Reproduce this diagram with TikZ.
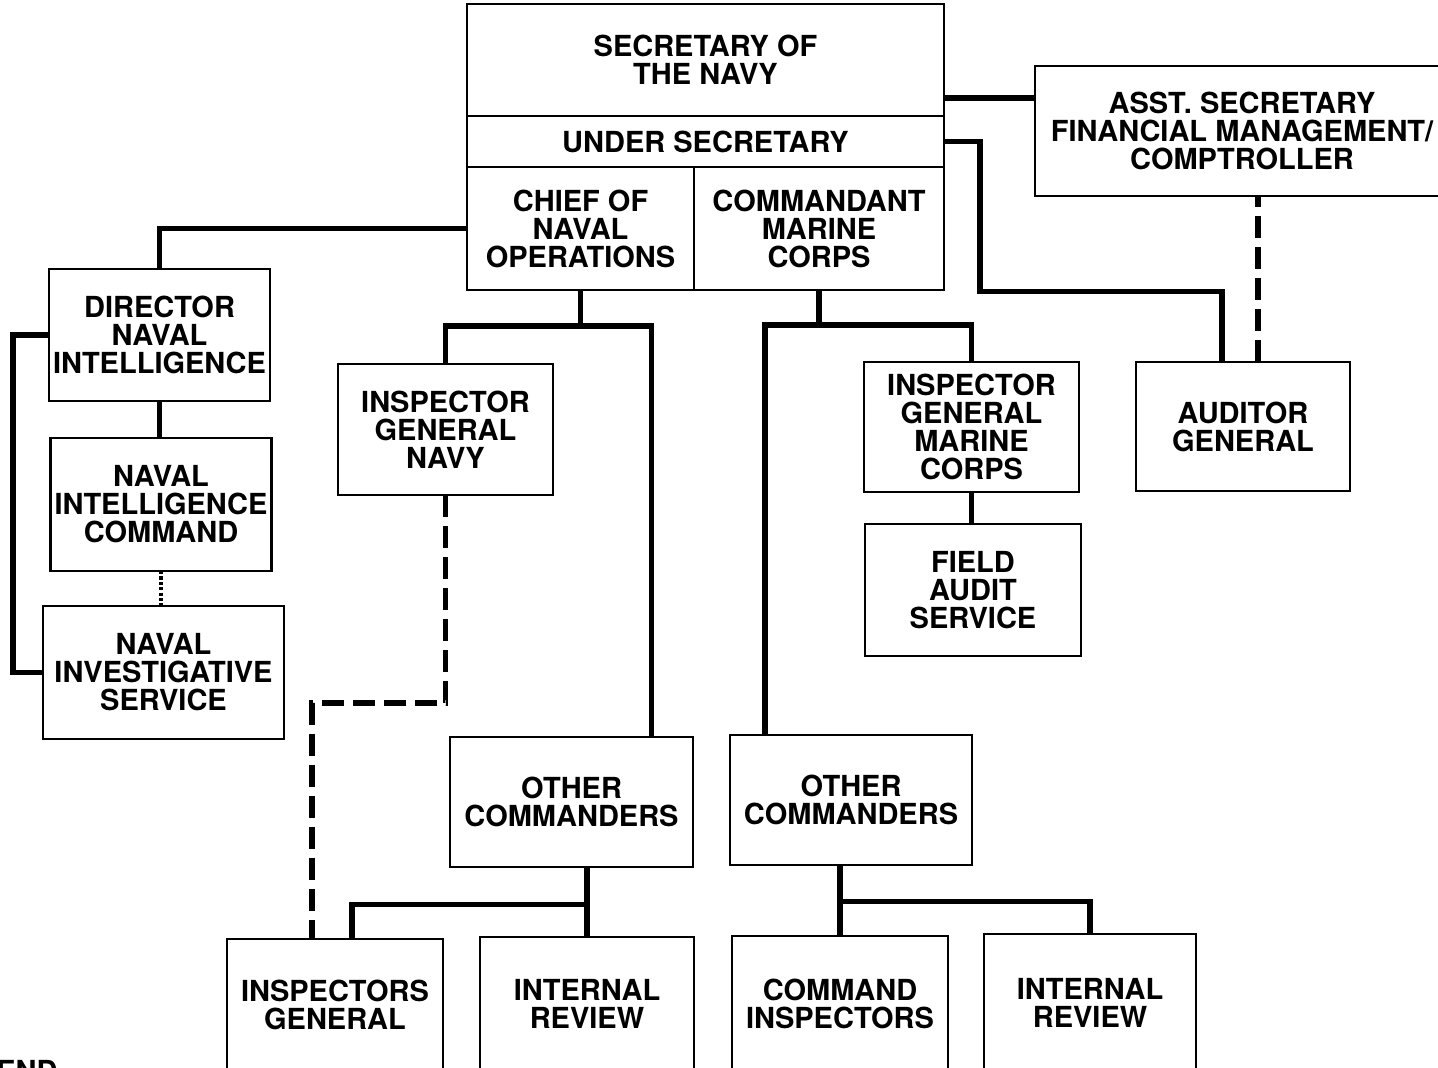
\documentclass[tikz,border=0pt]{standalone}
\usepackage{fontspec}
\setmainfont{TeX Gyre Heros}
\usetikzlibrary{positioning}
\begin{document}
\begin{tikzpicture}[x=0.5pt,y=-0.5pt,
    office/.style={draw,line width=1.4pt,align=center,inner sep=2pt,outer sep=0pt,font=\fontsize{14.5}{14}\selectfont\bfseries},
    link/.style={line width=2.6pt},
    dashlink/.style={line width=2.6pt,dash pattern=on 11pt off 4.5pt},
    dotlink/.style={line width=2.4pt,dash pattern=on 1.6pt off 1.1pt}]
    \clip (0,0) rectangle (1438,1068);
    \node[office,minimum width=238.5pt,minimum height=56pt] (secnav) at (705.5,60) {SECRETARY OF\\THE NAVY};
    \node[office,minimum width=238.5pt,minimum height=25.5pt,below=0pt of secnav] (under) {UNDER SECRETARY};
    \node[office,minimum width=113.5pt,minimum height=61.5pt,below right=0pt of under.south west] (cno) {CHIEF OF\\NAVAL\\OPERATIONS};
    \node[office,minimum width=125pt,minimum height=61.5pt,right=0pt of cno] (cmc) {COMMANDANT\\MARINE\\CORPS};
    \node[office,minimum width=207pt,minimum height=65pt] (asst) at (1242,131) {ASST. SECRETARY\\FINANCIAL MANAGEMENT/\\COMPTROLLER};
    \node[office,minimum width=107pt,minimum height=64.5pt] (aud) at (1243,426.5) {AUDITOR\\GENERAL};
    \node[office,minimum width=108.5pt,minimum height=66pt] (dni) at (159.5,335) {DIRECTOR\\NAVAL\\INTELLIGENCE};
    \node[office,minimum width=108pt,minimum height=66.5pt] (nic) at (161,504.5) {NAVAL\\INTELLIGENCE\\COMMAND};
    \node[office,minimum width=120.5pt,minimum height=66.5pt] (nis) at (163.5,672.5) {NAVAL\\INVESTIGATIVE\\SERVICE};
    \node[office,minimum width=107.5pt,minimum height=65.5pt] (ign) at (445.5,429.5) {INSPECTOR\\GENERAL\\NAVY};
    \node[office,minimum width=121.5pt,minimum height=65pt] (ocn) at (571.5,802) {OTHER\\COMMANDERS};
    \node[office,minimum width=108pt,minimum height=66pt] (igs) at (335,1005) {INSPECTORS\\GENERAL};
    \node[office,minimum width=107pt,minimum height=67pt] (irn) at (587,1004) {INTERNAL\\REVIEW};
    \node[office,minimum width=107.5pt,minimum height=65pt] (igmc) at (971.5,427) {INSPECTOR\\GENERAL\\MARINE\\CORPS};
    \node[office,minimum width=108pt,minimum height=66pt] (fas) at (973,590) {FIELD\\AUDIT\\SERVICE};
    \node[office,minimum width=121pt,minimum height=65pt] (ocm) at (851,800) {OTHER\\COMMANDERS};
    \node[office,minimum width=108pt,minimum height=67.5pt] (cmi) at (840,1003.5) {COMMAND\\INSPECTORS};
    \node[office,minimum width=106pt,minimum height=68.5pt] (irm) at (1090,1002.5) {INTERNAL\\REVIEW};
    \node[anchor=north west,inner sep=0pt,font=\fontsize{14.5}{14}\selectfont\bfseries] (legend) at (-4,1060) {END};
    \draw[link] ([yshift=-19pt]secnav.east) -- ([yshift=-19pt]secnav.east -| asst.west);
    \draw[link] (under.east) -- ++(36,0) |- ++(242,150) -- ([xshift=-10.5pt]aud.north);
    \draw[dashlink] ([xshift=7.5pt]aud.north) -- ([xshift=7.5pt]aud.north |- asst.south);
    \draw[link] (cno.west) -| (dni.north);
    \draw[link] (dni.south) -- (dni.south |- nic.north);
    \draw[dotlink] (nic.south) -- (nic.south |- nis.north);
    \draw[link] (dni.west) -- ++(-36,0) |- (nis.west);
    \draw[link] (cno.south) -- ++(0,36) coordinate (cnofork);
    \draw[link] (ign.north) |- (cnofork) -| ([xshift=40pt]ocn.north);
    \draw[dashlink] (ign.south) -- ++(0,208) -| ([xshift=-11.5pt]igs.north);
    \draw[link] (irn.north) -- coordinate[pos=0.46] (ocnfork) (irn.north |- ocn.south);
    \draw[link] ([xshift=8.5pt]igs.north) |- (ocnfork);
    \draw[link] (cmc.south) -- ++(0,35) coordinate (cmcfork);
    \draw[link] ([xshift=-43pt]ocm.north) |- (cmcfork) -| (igmc.north);
    \draw[link] (igmc.south) -- (igmc.south |- fas.north);
    \draw[link] (cmi.north) -- coordinate[pos=0.49] (ocmfork) (cmi.north |- ocm.south);
    \draw[link] (ocmfork) -| (irm.north);
\end{tikzpicture}
\end{document}
